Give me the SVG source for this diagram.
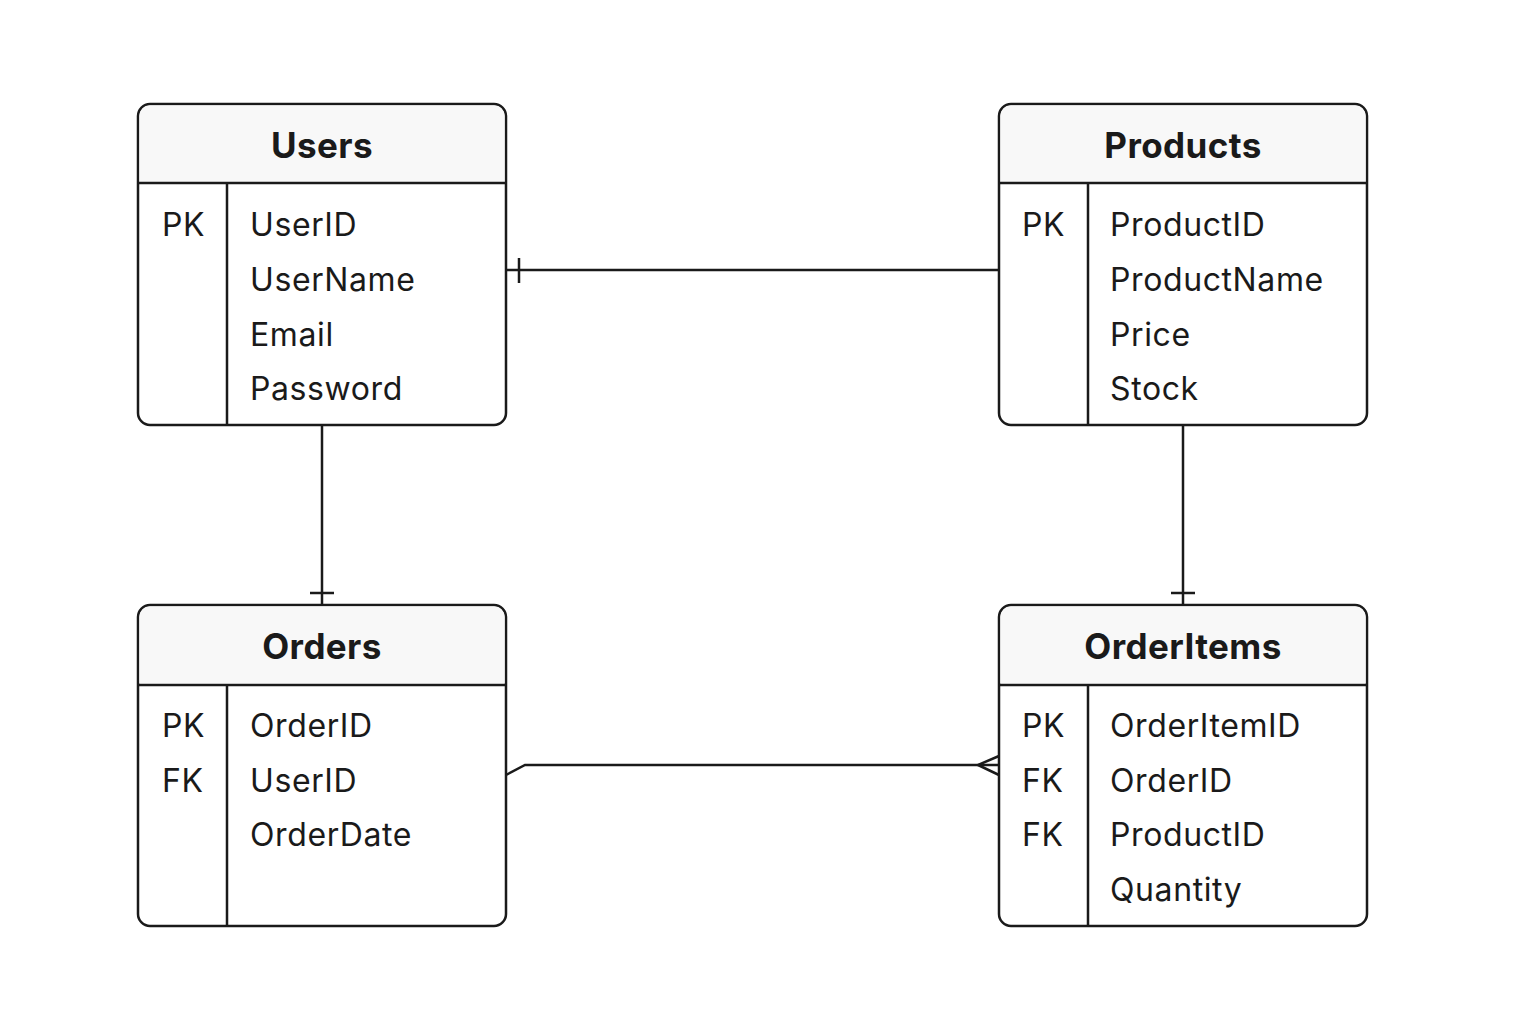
<svg xmlns="http://www.w3.org/2000/svg" width="1536" height="1024" viewBox="0 0 1536 1024">
<style>
.box{fill:#ffffff;stroke:#1a1a1a;stroke-width:2.5}
.hdr{fill:#f8f8f8}
.ln{stroke:#1a1a1a;stroke-width:2.5;fill:none}
.t{font-family:Inter,"Noto Sans","Liberation Sans",sans-serif;font-size:32px;letter-spacing:0.6px;fill:#1a1a1a}
.h{font-family:Inter,"Noto Sans","Liberation Sans",sans-serif;font-size:35px;font-weight:bold;letter-spacing:0.4px;fill:#1a1a1a;text-anchor:middle}
</style>
<rect width="1536" height="1024" fill="#ffffff"/>
<g id="connectors">
<path class="ln" d="M506 270 H999"/>
<path class="ln" d="M519 258 V283"/>
<path class="ln" d="M322 425 V605"/>
<path class="ln" d="M310 593 H334"/>
<path class="ln" d="M1183 425 V605"/>
<path class="ln" d="M1171 593 H1195"/>
<path class="ln" d="M506 775 L525 765 H999"/>
<path class="ln" d="M999 756 L978 765 L999 775"/>
</g>
<g id="users">
<rect class="box" x="138" y="104" width="368" height="321" rx="12"/>
<path class="hdr" d="M150 105.5 H494 A10.5 10.5 0 0 1 504.5 116 V182 H139.5 V116 A10.5 10.5 0 0 1 150 105.5 Z"/>
<path class="ln" d="M138 183 H506 M227 183 V425"/>
<text class="h" x="322" y="158">Users</text>
<text class="t" x="162" y="236">PK</text>
<text class="t" x="250" y="236">UserID</text>
<text class="t" x="250" y="291">UserName</text>
<text class="t" x="250" y="346">Email</text>
<text class="t" x="250" y="400">Password</text>
</g>
<g id="products">
<rect class="box" x="999" y="104" width="368" height="321" rx="12"/>
<path class="hdr" d="M1011 105.5 H1355 A10.5 10.5 0 0 1 1365.5 116 V182 H1000.5 V116 A10.5 10.5 0 0 1 1011 105.5 Z"/>
<path class="ln" d="M999 183 H1367 M1088 183 V425"/>
<text class="h" x="1183" y="158">Products</text>
<text class="t" x="1022" y="236">PK</text>
<text class="t" x="1110" y="236">ProductID</text>
<text class="t" x="1110" y="291">ProductName</text>
<text class="t" x="1110" y="346">Price</text>
<text class="t" x="1110" y="400">Stock</text>
</g>
<g id="orders">
<rect class="box" x="138" y="605" width="368" height="321" rx="12"/>
<path class="hdr" d="M150 606.5 H494 A10.5 10.5 0 0 1 504.5 617 V683 H139.5 V617 A10.5 10.5 0 0 1 150 606.5 Z"/>
<path class="ln" d="M138 685 H506 M227 685 V926"/>
<text class="h" x="322" y="659">Orders</text>
<text class="t" x="162" y="737">PK</text>
<text class="t" x="250" y="737">OrderID</text>
<text class="t" x="162" y="792">FK</text>
<text class="t" x="250" y="792">UserID</text>
<text class="t" x="250" y="846">OrderDate</text>
</g>
<g id="orderitems">
<rect class="box" x="999" y="605" width="368" height="321" rx="12"/>
<path class="hdr" d="M1011 606.5 H1355 A10.5 10.5 0 0 1 1365.5 617 V683 H1000.5 V617 A10.5 10.5 0 0 1 1011 606.5 Z"/>
<path class="ln" d="M999 685 H1367 M1088 685 V926"/>
<text class="h" x="1183" y="659">OrderItems</text>
<text class="t" x="1022" y="737">PK</text>
<text class="t" x="1110" y="737">OrderItemID</text>
<text class="t" x="1022" y="792">FK</text>
<text class="t" x="1110" y="792">OrderID</text>
<text class="t" x="1022" y="846">FK</text>
<text class="t" x="1110" y="846">ProductID</text>
<text class="t" x="1110" y="901">Quantity</text>
</g>
</svg>
